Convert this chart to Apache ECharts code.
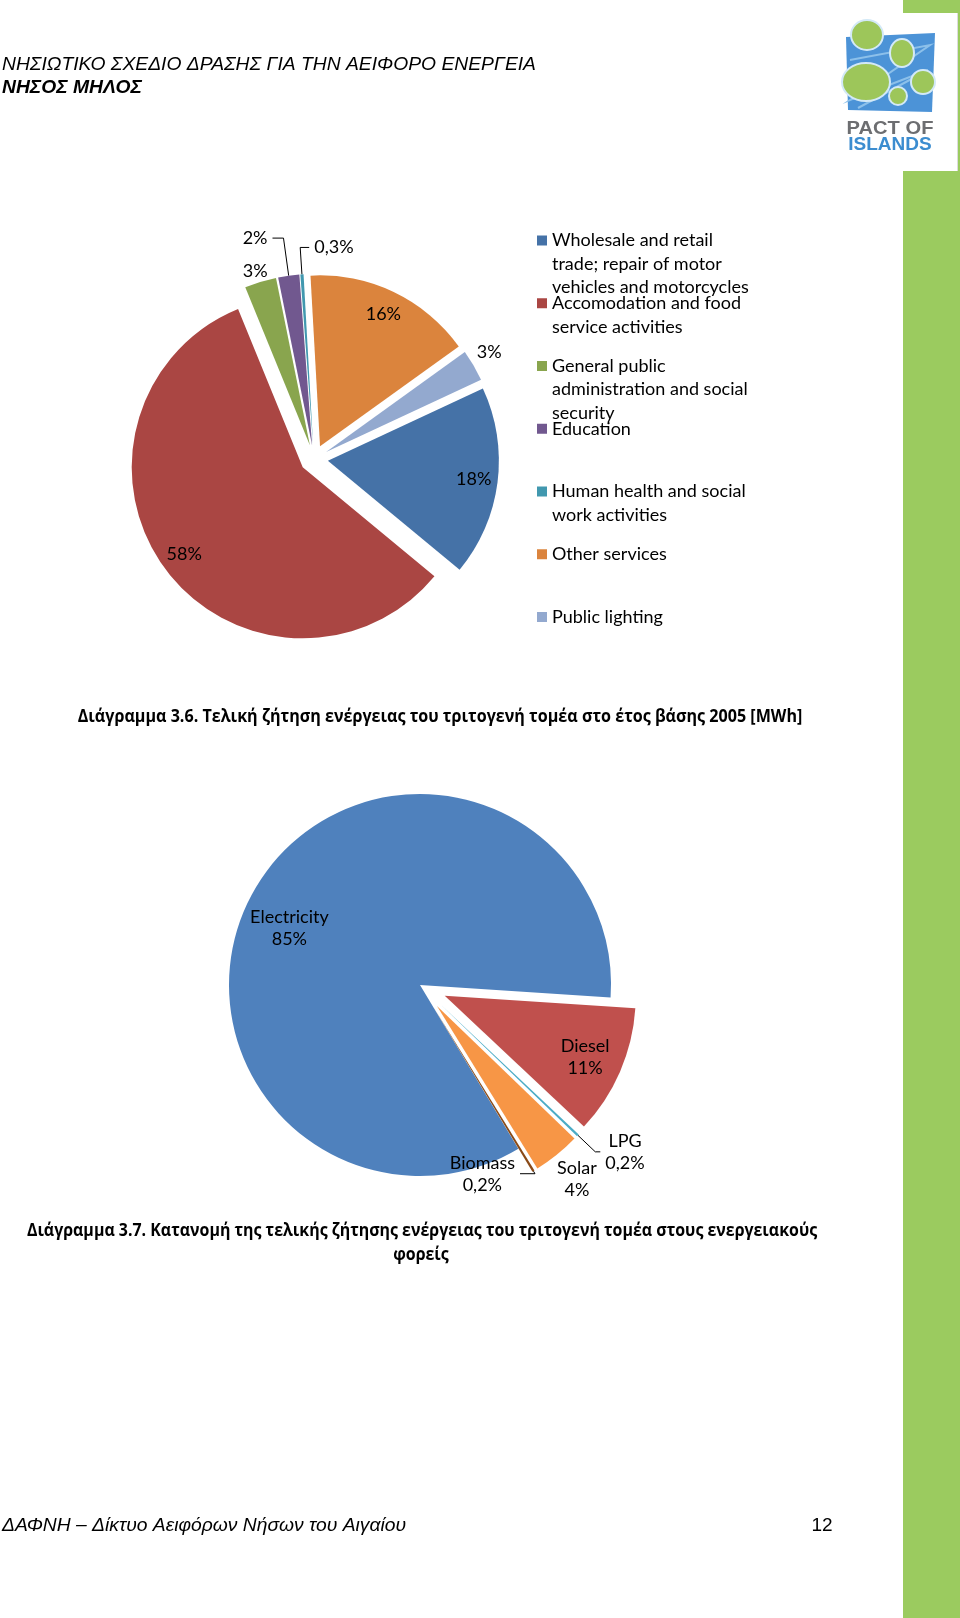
<!DOCTYPE html>
<html><head><meta charset="utf-8">
<script src="https://cdn.jsdelivr.net/npm/echarts@6/dist/echarts.min.js"></script>
<style>html,body{margin:0;padding:0;background:#fff}#c{width:960px;height:1618px}</style>
</head><body><div id="c"></div>
<script>
// ---- data ----
const sectorNames = [
  'Wholesale and retail\ntrade; repair of motor\nvehicles and motorcycles',
  'Accomodation and food\nservice activities',
  'General public\nadministration and social\nsecurity',
  'Education',
  'Human health and social\nwork activities',
  'Other services',
  'Public lighting'
];
const sectorShares = [18, 58, 3, 2, 0.3, 16, 3];
const sectorColors = ['#4572A7', '#AA4643', '#89A54E', '#71588F', '#4198AF', '#DB843D', '#93A9CF'];
const sectorLabelModes = ['inner', 'inner', 'outer', 'leader', 'leaderFlip', 'inner', 'outer'];
const sectorExploded = [true, true, true, true, true, true, true];

const carrierNames = ['Electricity', 'Diesel', 'LPG', 'Solar', 'Biomass'];
const carrierShares = [85, 11, 0.2, 4, 0.2];
const carrierColors = ['#4F81BD', '#C0504D', '#4BACC6', '#F79646', '#8A4A17'];
const carrierLabelModes = ['inner', 'inner', 'leader', 'outer', 'leaderFlip'];
const carrierExploded = [false, true, true, true, true];

const headerLine1 = 'ΝΗΣΙΩΤΙΚΟ ΣΧΕΔΙΟ ΔΡΑΣΗΣ ΓΙΑ ΤΗΝ ΑΕΙΦΟΡΟ ΕΝΕΡΓΕΙΑ';
const headerLine2 = 'ΝΗΣΟΣ ΜΗΛΟΣ';
const caption1 = 'Διάγραμμα 3.6. Τελική ζήτηση ενέργειας του τριτογενή τομέα στο έτος βάσης 2005 [MWh]';
const caption2a = 'Διάγραμμα 3.7. Κατανομή της τελικής ζήτησης ενέργειας του τριτογενή τομέα στους ενεργειακούς';
const caption2b = 'φορείς';
const footerText = 'ΔΑΦΝΗ – Δίκτυο Αειφόρων Νήσων του Αιγαίου';
const pageNumber = '12';

// ---- helpers ----
const LATIN = 'Lato, "Open Sans", sans-serif';
const GREEK = '"Open Sans", "Noto Sans", sans-serif';
const ARIAL = '"Liberation Sans", Arial, sans-serif';
const fmtPct = v => String(v).replace('.', ',') + '%';
const LABEL_DIST = 5;

// mirror the horizontal part of a leader line to the other side of the pie
function flipLayout(modes) {
  return function (p) {
    if (modes[p.dataIndex] !== 'leaderFlip' || !p.labelLinePoints) return {};
    const pts = p.labelLinePoints;
    const p1 = pts[1], p2 = pts[2];
    const mirrored = [pts[0], p1, [2 * p1[0] - p2[0], p2[1]]];
    return { align: p2[0] < p1[0] ? 'left' : 'right', labelLinePoints: mirrored };
  };
}

function makePie(cfg) {
  const base = {
    type: 'pie', center: cfg.center, startAngle: cfg.startAngle, clockwise: true,
    selectedMode: 'multiple', selectedOffset: cfg.offset, avoidLabelOverlap: false,
    emphasis: { disabled: true }, select: { itemStyle: { borderWidth: 0 } },
    animation: false
  };
  const labelText = {
    color: '#000', fontFamily: LATIN, fontSize: 18, lineHeight: 22,
    textBorderWidth: 0, formatter: cfg.formatter,
    rich: { t: { align: 'center', fontFamily: LATIN, fontSize: 18, lineHeight: 22, color: '#000' } }
  };
  const visible = Object.assign({}, base, {
    radius: [0, cfg.radius],
    itemStyle: { borderWidth: 0 },
    label: Object.assign({ show: true, position: 'outside', distanceToLabelLine: LABEL_DIST }, labelText),
    labelLine: { show: true, smooth: false, lineStyle: { color: '#000', width: 1 } },
    labelLayout: flipLayout(cfg.modes),
    data: cfg.names.map((n, i) => {
      const lead = cfg.modes[i].indexOf('leader') === 0;
      const flip = cfg.modes[i] === 'leaderFlip';
      const ll = cfg.lines[i] || [10, 10];
      const s = 2 * (ll[1] + LABEL_DIST);
      return {
        name: n, value: cfg.values[i], selected: cfg.exploded[i],
        itemStyle: { color: cfg.colors[i] },
        label: flip ? { show: true, padding: [0, s, 0, s] } : { show: lead },
        labelLine: { show: lead, length: ll[0], length2: ll[1] }
      };
    })
  });
  const ring = (R, mode, pads) => Object.assign({}, base, {
    radius: [0, R], silent: true, z: 3,
    itemStyle: { color: 'rgba(0,0,0,0)', borderWidth: 0 },
    label: Object.assign({ show: true, position: 'inside' }, labelText),
    labelLine: { show: false },
    data: cfg.names.map((n, i) => ({
      name: n, value: cfg.values[i], selected: cfg.exploded[i],
      itemStyle: { color: 'rgba(0,0,0,0)' },
      label: Object.assign({ show: cfg.modes[i] === mode }, (pads && pads[i]) ? { padding: pads[i] } : {})
    }))
  });
  return [visible, ring(cfg.innerR, 'inner', cfg.innerPad), ring(cfg.outerR, 'outer', cfg.outerPad)];
}

const series = [].concat(
  makePie({
    names: sectorNames, values: sectorShares, colors: sectorColors, modes: sectorLabelModes,
    exploded: sectorExploded, center: [314, 459], radius: 171, startAngle: 25, offset: 14,
    innerR: 288, outerR: 372,
    outerPad: [null, null, [12, 0, 0, 0], null, null, null, [0, 0, 8, 0]],
    lines: [null, null, null, [38, 11], [27, 9], null, null],
    formatter: p => fmtPct(p.value)
  }),
  makePie({
    names: carrierNames, values: carrierShares, colors: carrierColors, modes: carrierLabelModes,
    exploded: carrierExploded, center: [420, 985], radius: 191, startAngle: -59, offset: 27,
    innerR: 300, outerR: 440,
    innerPad: [[46, 0, 0, 0], null, null, null, null],
    lines: [null, null, [24, 5], null, [3, 15]],
    formatter: p => '{t|' + p.name + '}\n{t|' + fmtPct(p.value) + '}'
  })
);

// Legend: one component per entry so that every entry gets the same slot height.
// Leading blank lines put the marker beside the first text line (markers are centred on the text block).
const LEGEND_LH = 23.5;
const lineCount = n => n.split('\n').length;
const legends = sectorNames.map((n, i) => ({
  data: [n], orient: 'vertical', left: 537,
  top: 228.75 + i * 62.75 - (lineCount(n) - 1) * LEGEND_LH, padding: 0,
  icon: 'rect', itemWidth: 10, itemHeight: 10, selectedMode: false,
  itemStyle: { borderWidth: 0 },
  formatter: name => '\n'.repeat(lineCount(name) - 1) + name,
  textStyle: { fontFamily: LATIN, fontSize: 18, color: '#000', lineHeight: LEGEND_LH }
}));

function txt(x, y, text, font, opts) {
  return Object.assign({
    type: 'text', x: x, y: y, silent: true,
    style: Object.assign({ text: text, font: font, fill: '#000', align: 'left', verticalAlign: 'middle' }, (opts && opts.style) || {})
  }, (opts && opts.el) || {});
}

const ISLAND = { fill: '#9DC65A', stroke: '#D3E9F7', lineWidth: 2 };
const graphics = [
  { type: 'rect', shape: { x: 903, y: 0, width: 57, height: 1618 }, style: { fill: '#9BCB5F' }, silent: true },
  { type: 'rect', shape: { x: 903, y: 13, width: 54, height: 158 }, style: { fill: '#fff' }, silent: true },
  { type: 'line', shape: { x1: 957.5, y1: 13, x2: 957.5, y2: 171 }, style: { stroke: '#dcdcdc', lineWidth: 1 }, silent: true },
  // logo
  { type: 'polygon', shape: { points: [[846, 37], [935, 33], [932, 112], [848, 110]] }, style: { fill: '#4C93D7' }, silent: true },
  { type: 'polyline', shape: { points: [[850, 60], [930, 45], [850, 100], [928, 70], [858, 108]] }, style: { stroke: '#8CC0EA', lineWidth: 2, fill: null }, silent: true },
  { type: 'ellipse', shape: { cx: 867, cy: 35, rx: 16, ry: 15 }, style: ISLAND, silent: true },
  { type: 'ellipse', shape: { cx: 902, cy: 53, rx: 12, ry: 14 }, style: ISLAND, silent: true },
  { type: 'ellipse', shape: { cx: 866, cy: 82, rx: 24, ry: 19 }, style: ISLAND, silent: true },
  { type: 'ellipse', shape: { cx: 923, cy: 82, rx: 12, ry: 12 }, style: ISLAND, silent: true },
  { type: 'ellipse', shape: { cx: 898, cy: 96, rx: 9, ry: 9 }, style: ISLAND, silent: true },
  txt(890, 129, 'PACT OF', 'bold 19px ' + ARIAL, { style: { fill: '#6D6E71', align: 'center' }, el: { scaleX: 1.06 } }),
  txt(890, 145, 'ISLANDS', 'bold 19px ' + ARIAL, { style: { fill: '#3C8DD0', align: 'center' }, el: { scaleX: 1.0 } }),
  // header / captions / footer
  txt(2, 65, headerLine1, 'italic 19.3px ' + ARIAL),
  txt(2, 88, headerLine2, 'italic bold 19.3px ' + ARIAL),
  txt(440, 717, caption1, 'bold 17px ' + GREEK, { style: { align: 'center' }, el: { scaleX: 0.947 } }),
  txt(422, 1231, caption2a, 'bold 17px ' + GREEK, { style: { align: 'center' }, el: { scaleX: 0.937 } }),
  txt(421, 1255, caption2b, 'bold 17px ' + GREEK, { style: { align: 'center' }, el: { scaleX: 0.937 } }),
  txt(2, 1526, footerText, 'italic 19.3px ' + ARIAL),
  txt(822, 1526, pageNumber, '19px ' + ARIAL, { style: { align: 'center' } })
];

const chart = echarts.init(document.getElementById('c'), null, { renderer: 'canvas' });
chart.setOption({
  animation: false,
  backgroundColor: '#fff',
  legend: legends,
  series: series,
  graphic: { elements: graphics }
});
</script>
</body></html>
